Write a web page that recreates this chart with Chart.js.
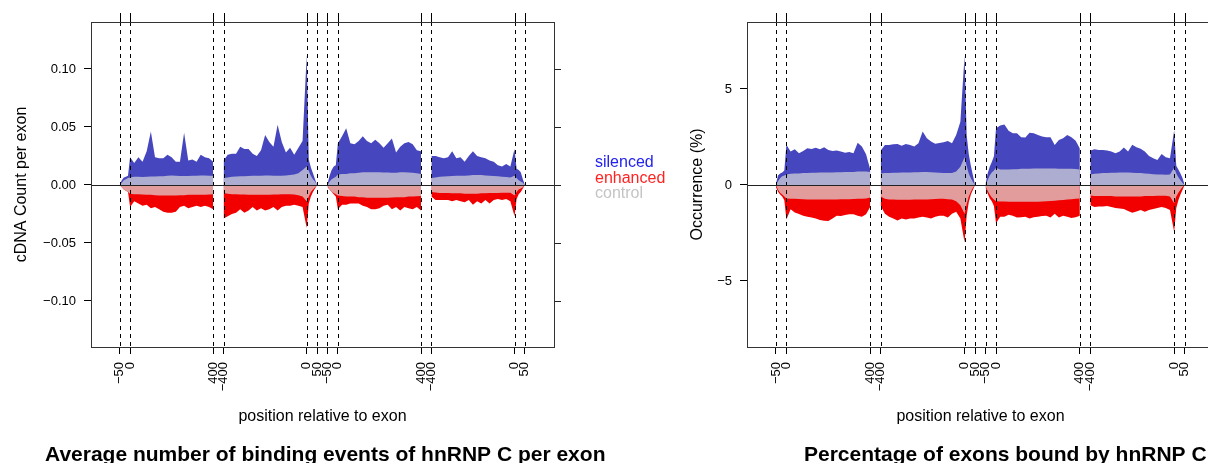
<!DOCTYPE html>
<html lang="en">
<head>
<meta charset="UTF-8">
<title>hnRNP C binding around regulated exons</title>
<script src="https://cdn.jsdelivr.net/npm/chart.js"></script>
<style>
  html, body { margin: 0; padding: 0; background: #fff; overflow: hidden; width: 1208px; height: 463px; }
  body { position: relative; font-family: 'Liberation Sans', Arial, sans-serif; }
  canvas { position: absolute; top: 0; }
  #left { left: 0; }
  #right { left: 620px; }
  .key { position: absolute; left: 595px; font-size: 16px; line-height: 16px; white-space: nowrap; }
</style>
</head>
<body>
<canvas id="left" width="620" height="463"></canvas>
<canvas id="right" width="600" height="463"></canvas>
<div class="key" style="top:153.5px;color:#2222ee">silenced</div>
<div class="key" style="top:169.5px;color:#ff2222">enhanced</div>
<div class="key" style="top:184.5px;color:#c4c4c4">control</div>

<script>
// x axis: 4 blocks laid end to end (gap of 50 between them)
// block 1 & 3: -50..0 then 0..400, block 2 & 4: -400..0 then 0..50
const blockStarts = [0, 500, 1000, 1500];
const shortFirst = [0, 10, 20, 30, 40, 50];
for (let o = 70; o <= 450; o += 20) shortFirst.push(o);
const longFirst = [];
for (let o = 0; o <= 400; o += 20) longFirst.push(o);
longFirst.push(410, 420, 430, 440, 450);

const xTickPos = [0, 50, 450, 500, 900, 950, 1000, 1050, 1450, 1500, 1900, 1950];
const xTickLabels = ['\u221250', '0', '400', '\u2212400', '0', '50', '\u221250', '0', '400', '\u2212400', '0', '50'];

const countTicks = [-0.10, -0.05, 0, 0.05, 0.10];
const pctTicks = [-5, 0, 5];

// cDNA count per exon
const countSilenced = [
  [0, 0.004, 0.0065, 0.007, 0.008, 0.024, 0.019, 0.024, 0.020, 0.029, 0.046, 0.024, 0.023, 0.023, 0.026, 0.024, 0.020, 0.020, 0.045, 0.021, 0.022, 0.020, 0.026, 0.024, 0.023, 0.020],
  [0.021, 0.026, 0.027, 0.027, 0.033, 0.031, 0.031, 0.027, 0.025, 0.030, 0.043, 0.037, 0.033, 0.052, 0.037, 0.028, 0.032, 0.026, 0.032, 0.038, 0.112, 0.022, 0.015, 0.010, 0.005, 0],
  [0.001, 0.008, 0.013, 0.016, 0.017, 0.036, 0.042, 0.049, 0.036, 0.035, 0.038, 0.042, 0.038, 0.036, 0.039, 0.036, 0.032, 0.036, 0.040, 0.028, 0.033, 0.036, 0.037, 0.035, 0.030, 0.029],
  [0.025, 0.025, 0.024, 0.023, 0.024, 0.029, 0.023, 0.024, 0.020, 0.025, 0.029, 0.025, 0.024, 0.023, 0.021, 0.020, 0.017, 0.016, 0.018, 0.016, 0.031, 0.014, 0.013, 0.011, 0.005, 0]
];
const countEnhanced = [
  [0, -0.002, -0.004, -0.005, -0.006, -0.019, -0.014, -0.016, -0.018, -0.017, -0.020, -0.019, -0.021, -0.023, -0.024, -0.024, -0.023, -0.019, -0.018, -0.020, -0.019, -0.018, -0.019, -0.018, -0.019, -0.021],
  [-0.029, -0.027, -0.025, -0.024, -0.021, -0.024, -0.022, -0.019, -0.022, -0.020, -0.022, -0.021, -0.019, -0.022, -0.019, -0.018, -0.018, -0.017, -0.018, -0.019, -0.037, -0.016, -0.010, -0.006, -0.003, 0],
  [-0.002, -0.004, -0.006, -0.008, -0.010, -0.021, -0.017, -0.017, -0.016, -0.016, -0.016, -0.018, -0.019, -0.021, -0.021, -0.020, -0.018, -0.017, -0.021, -0.019, -0.022, -0.019, -0.020, -0.021, -0.019, -0.022],
  [-0.010, -0.013, -0.013, -0.013, -0.013, -0.014, -0.013, -0.014, -0.015, -0.013, -0.017, -0.014, -0.016, -0.013, -0.016, -0.013, -0.012, -0.013, -0.012, -0.014, -0.027, -0.012, -0.008, -0.006, -0.003, 0]
];
const countControlUp = [
  [0, 0.002, 0.004, 0.005, 0.006, 0.0065, 0.007, 0.007, 0.0068, 0.007, 0.0072, 0.0072, 0.0075, 0.0075, 0.008, 0.0082, 0.008, 0.0078, 0.0078, 0.0078, 0.008, 0.008, 0.0082, 0.0082, 0.008, 0.008],
  [0.006, 0.0065, 0.007, 0.0072, 0.0075, 0.0075, 0.0078, 0.008, 0.008, 0.008, 0.0082, 0.0082, 0.008, 0.008, 0.008, 0.0082, 0.0085, 0.009, 0.010, 0.013, 0.016, 0.012, 0.008, 0.005, 0.003, 0],
  [0, 0.003, 0.005, 0.006, 0.007, 0.009, 0.0095, 0.0095, 0.010, 0.010, 0.0105, 0.011, 0.011, 0.011, 0.011, 0.011, 0.0108, 0.0108, 0.0105, 0.0105, 0.011, 0.011, 0.0108, 0.0105, 0.010, 0.0095],
  [0.006, 0.0065, 0.007, 0.0072, 0.0075, 0.0078, 0.008, 0.008, 0.008, 0.0082, 0.0085, 0.0085, 0.0085, 0.0082, 0.008, 0.0078, 0.0075, 0.007, 0.0068, 0.0065, 0.008, 0.006, 0.004, 0.003, 0.002, 0]
];
const countControlDown = [
  [0, -0.002, -0.004, -0.005, -0.006, -0.0075, -0.008, -0.008, -0.0082, -0.0085, -0.0085, -0.0088, -0.009, -0.009, -0.009, -0.009, -0.009, -0.0088, -0.0088, -0.0085, -0.0085, -0.0085, -0.0085, -0.0085, -0.0082, -0.008],
  [-0.007, -0.0075, -0.008, -0.008, -0.0082, -0.0082, -0.0085, -0.0085, -0.0085, -0.0085, -0.0085, -0.0085, -0.0082, -0.0082, -0.008, -0.008, -0.008, -0.0082, -0.0088, -0.010, -0.014, -0.010, -0.006, -0.004, -0.002, 0],
  [-0.001, -0.004, -0.006, -0.007, -0.008, -0.009, -0.0095, -0.010, -0.010, -0.010, -0.0105, -0.0105, -0.011, -0.011, -0.011, -0.011, -0.011, -0.011, -0.0108, -0.0105, -0.0105, -0.0105, -0.010, -0.010, -0.0098, -0.0095],
  [-0.006, -0.0065, -0.007, -0.007, -0.007, -0.0072, -0.0072, -0.0072, -0.0075, -0.0075, -0.0075, -0.0075, -0.0072, -0.0072, -0.007, -0.007, -0.007, -0.0068, -0.0068, -0.0068, -0.009, -0.006, -0.004, -0.003, -0.002, 0]
];

// percentage of exons bound
const pctSilenced = [
  [0.05, 0.5, 0.6, 0.65, 0.75, 2.1, 1.74, 1.86, 1.65, 1.77, 1.91, 1.87, 1.94, 1.86, 1.96, 1.82, 1.77, 1.79, 1.74, 1.68, 1.72, 1.65, 2.2, 2.0, 1.6, 0.8],
  [1.8, 2.08, 2.08, 2.12, 2.14, 2.05, 2.14, 2.08, 2.0, 2.17, 2.78, 2.43, 2.26, 2.15, 2.19, 2.22, 2.29, 2.17, 2.6, 3.3, 6.75, 2.6, 1.6, 1.0, 0.5, 0],
  [0.05, 0.6, 0.95, 1.2, 1.5, 2.95, 3.1, 3.15, 2.83, 2.69, 2.69, 2.48, 2.47, 2.72, 2.69, 2.6, 2.52, 2.48, 2.48, 2.08, 2.34, 2.43, 2.6, 2.48, 2.3, 1.9],
  [1.8, 1.86, 1.82, 1.82, 1.79, 1.74, 1.65, 1.74, 1.95, 1.74, 2.1, 1.96, 1.89, 1.74, 1.51, 1.39, 1.3, 1.61, 1.44, 1.39, 2.85, 1.0, 0.8, 0.6, 0.35, 0]
];
const pctEnhanced = [
  [-0.1, -0.35, -0.5, -0.6, -0.8, -1.8, -1.27, -1.44, -1.51, -1.6, -1.65, -1.7, -1.74, -1.82, -1.86, -1.88, -1.74, -1.6, -1.62, -1.56, -1.53, -1.53, -1.6, -1.65, -1.53, -1.13],
  [-1.1, -1.5, -1.65, -1.75, -1.85, -1.75, -1.8, -1.75, -1.75, -1.7, -1.65, -1.7, -1.75, -1.65, -1.6, -1.6, -1.7, -1.5, -1.4, -1.75, -3.0, -1.6, -0.9, -0.5, -0.25, 0],
  [-0.15, -0.45, -0.7, -0.85, -1.1, -2.0, -1.65, -1.65, -1.55, -1.6, -1.7, -1.68, -1.65, -1.75, -1.68, -1.65, -1.62, -1.6, -1.7, -1.5, -1.7, -1.6, -1.65, -1.72, -1.68, -1.6],
  [-1.05, -1.15, -1.12, -1.12, -1.1, -1.15, -1.2, -1.22, -1.25, -1.35, -1.45, -1.38, -1.3, -1.4, -1.3, -1.25, -1.2, -1.15, -1.2, -1.3, -2.45, -1.2, -0.8, -0.5, -0.25, 0]
];
const pctControlUp = [
  [0, 0.2, 0.35, 0.45, 0.5, 0.55, 0.58, 0.6, 0.6, 0.62, 0.62, 0.64, 0.64, 0.65, 0.65, 0.65, 0.65, 0.66, 0.66, 0.67, 0.68, 0.68, 0.7, 0.7, 0.7, 0.68],
  [0.6, 0.62, 0.63, 0.64, 0.64, 0.65, 0.65, 0.65, 0.66, 0.66, 0.67, 0.67, 0.66, 0.65, 0.64, 0.63, 0.62, 0.62, 0.7, 0.95, 1.45, 1.0, 0.6, 0.35, 0.15, 0],
  [0, 0.25, 0.5, 0.65, 0.75, 0.9, 0.8, 0.8, 0.8, 0.82, 0.82, 0.84, 0.84, 0.85, 0.86, 0.86, 0.86, 0.86, 0.86, 0.86, 0.85, 0.85, 0.85, 0.84, 0.83, 0.8],
  [0.55, 0.58, 0.6, 0.62, 0.62, 0.64, 0.64, 0.65, 0.65, 0.65, 0.64, 0.63, 0.62, 0.6, 0.58, 0.56, 0.55, 0.54, 0.53, 0.55, 0.9, 0.6, 0.4, 0.25, 0.1, 0]
];
const pctControlDown = [
  [0, -0.25, -0.4, -0.5, -0.6, -0.7, -0.72, -0.72, -0.73, -0.74, -0.75, -0.75, -0.76, -0.76, -0.76, -0.76, -0.75, -0.75, -0.74, -0.74, -0.74, -0.73, -0.72, -0.72, -0.7, -0.65],
  [-0.6, -0.72, -0.75, -0.76, -0.77, -0.77, -0.77, -0.77, -0.76, -0.76, -0.75, -0.75, -0.74, -0.73, -0.72, -0.72, -0.74, -0.76, -0.85, -1.05, -1.5, -1.0, -0.6, -0.35, -0.15, 0],
  [-0.05, -0.3, -0.5, -0.65, -0.75, -0.85, -0.86, -0.86, -0.87, -0.88, -0.88, -0.88, -0.88, -0.88, -0.87, -0.87, -0.86, -0.85, -0.84, -0.82, -0.8, -0.78, -0.76, -0.74, -0.72, -0.7],
  [-0.55, -0.57, -0.58, -0.58, -0.58, -0.58, -0.6, -0.6, -0.6, -0.6, -0.6, -0.6, -0.6, -0.58, -0.58, -0.57, -0.56, -0.56, -0.56, -0.6, -0.95, -0.6, -0.4, -0.25, -0.1, 0]
];

const BLUE = '#4646bf', RED = '#f20000', LAVENDER = '#adadd2', PINK = '#e39c9c';

Chart.defaults.font.family = "'Liberation Sans', Arial, sans-serif";
Chart.defaults.color = '#000';

function toPoints(blocks) {
  const pts = [];
  blocks.forEach((vals, b) => {
    const offs = b % 2 === 0 ? shortFirst : longFirst;
    offs.forEach((o, i) => pts.push({ x: blockStarts[b] + o, y: vals[i] }));
    pts.push({ x: blockStarts[b] + 475, y: null });
  });
  return pts;
}

function area(label, blocks, color) {
  return {
    label, data: toPoints(blocks), fill: 'origin',
    backgroundColor: color, borderColor: 'rgba(0,0,0,0)', borderWidth: 0,
    pointRadius: 0, tension: 0, spanGaps: false
  };
}

const frame = {
  id: 'frame',
  afterDraw(chart, args, o) {
    const { ctx, chartArea: a, scales: { x, y } } = chart;
    ctx.save();
    ctx.strokeStyle = '#000';
    ctx.lineWidth = 1;
    xTickPos.forEach(u => {
      const px = Math.round(x.getPixelForValue(u)) + 0.5;
      ctx.setLineDash([]);
      ctx.beginPath(); ctx.moveTo(px, a.top - 9); ctx.lineTo(px, a.top); ctx.stroke();
      ctx.setLineDash([4, 4]);
      ctx.beginPath(); ctx.moveTo(px, a.top); ctx.lineTo(px, a.bottom); ctx.stroke();
    });
    ctx.setLineDash([]);
    ctx.strokeStyle = '#222';
    const y0 = Math.round(y.getPixelForValue(0)) + 0.5;
    ctx.beginPath(); ctx.moveTo(a.left, y0); ctx.lineTo(a.right, y0); ctx.stroke();
    o.yTicks.forEach(v => {
      const py = Math.round(y.getPixelForValue(v)) + 0.5;
      ctx.beginPath(); ctx.moveTo(a.right, py); ctx.lineTo(a.right + 7, py); ctx.stroke();
    });
    ctx.strokeStyle = '#333';
    ctx.strokeRect(Math.round(a.left) + 0.5, Math.round(a.top) + 0.5, Math.round(a.right - a.left), Math.round(a.bottom - a.top));

    ctx.fillStyle = '#000';
    ctx.font = "16px 'Liberation Sans', Arial, sans-serif";
    ctx.textAlign = 'center';
    ctx.textBaseline = 'alphabetic';
    ctx.fillText('position relative to exon', (a.left + a.right) / 2, 421);
    ctx.save();
    ctx.translate(o.yTitleX, (a.top + a.bottom) / 2);
    ctx.rotate(-Math.PI / 2);
    ctx.textBaseline = 'middle';
    ctx.fillText(o.yTitle, 0, 0);
    ctx.restore();
    ctx.font = "bold 21px 'Liberation Sans', Arial, sans-serif";
    ctx.textAlign = 'left';
    ctx.fillText(o.title, o.titleX, 461);
    ctx.restore();
  }
};

function makeChart(id, datasets, yRange, yTicks, fmt, yWidth, padRight, extra) {
  return new Chart(document.getElementById(id), {
    type: 'line',
    data: { datasets },
    plugins: [frame],
    options: {
      responsive: false, animation: false, devicePixelRatio: 1,
      layout: { padding: { top: 22, right: padRight, left: 0, bottom: 0 }, autoPadding: false },
      plugins: { legend: { display: false }, tooltip: { enabled: false }, frame: Object.assign({ yTicks }, extra) },
      scales: {
        x: {
          type: 'linear', min: -138, max: 2090,
          afterBuildTicks: s => { s.ticks = xTickPos.map(v => ({ value: v })); },
          afterFit: s => { s.height = 116; s.paddingLeft = 0; s.paddingRight = 0; },
          ticks: {
            autoSkip: false, maxRotation: 90, minRotation: 90, padding: 8,
            font: { size: 13 }, color: '#000',
            callback: (v, i) => xTickLabels[i]
          },
          grid: { drawOnChartArea: false, tickLength: 7, color: '#000' },
          border: { display: false }
        },
        y: {
          min: yRange[0], max: yRange[1],
          afterBuildTicks: s => { s.ticks = yTicks.map(v => ({ value: v })); },
          afterFit: s => { s.width = yWidth; },
          ticks: { padding: 8, font: { size: 13 }, color: '#000', callback: fmt },
          grid: { drawOnChartArea: false, tickLength: 7, color: '#000' },
          border: { display: false }
        }
      }
    }
  });
}

makeChart('left', [
  area('control', countControlUp, LAVENDER),
  area('control', countControlDown, PINK),
  area('silenced', countSilenced, BLUE),
  area('enhanced', countEnhanced, RED)
], [-0.1397, 0.1405], countTicks, v => v.toFixed(2).replace('-', '\u2212'), 91, 66,
  { yTitle: 'cDNA Count per exon', yTitleX: 22, title: 'Average number of binding events of hnRNP C per exon', titleX: 45 });

makeChart('right', [
  area('control', pctControlUp, LAVENDER),
  area('control', pctControlDown, PINK),
  area('silenced', pctSilenced, BLUE),
  area('enhanced', pctEnhanced, RED)
], [-8.44, 8.49], pctTicks, v => String(v).replace('-', '\u2212'), 127, 6,
  { yTitle: 'Occurrence (%)', yTitleX: 78, title: 'Percentage of exons bound by hnRNP C', titleX: 184 });
</script>
</body>
</html>
